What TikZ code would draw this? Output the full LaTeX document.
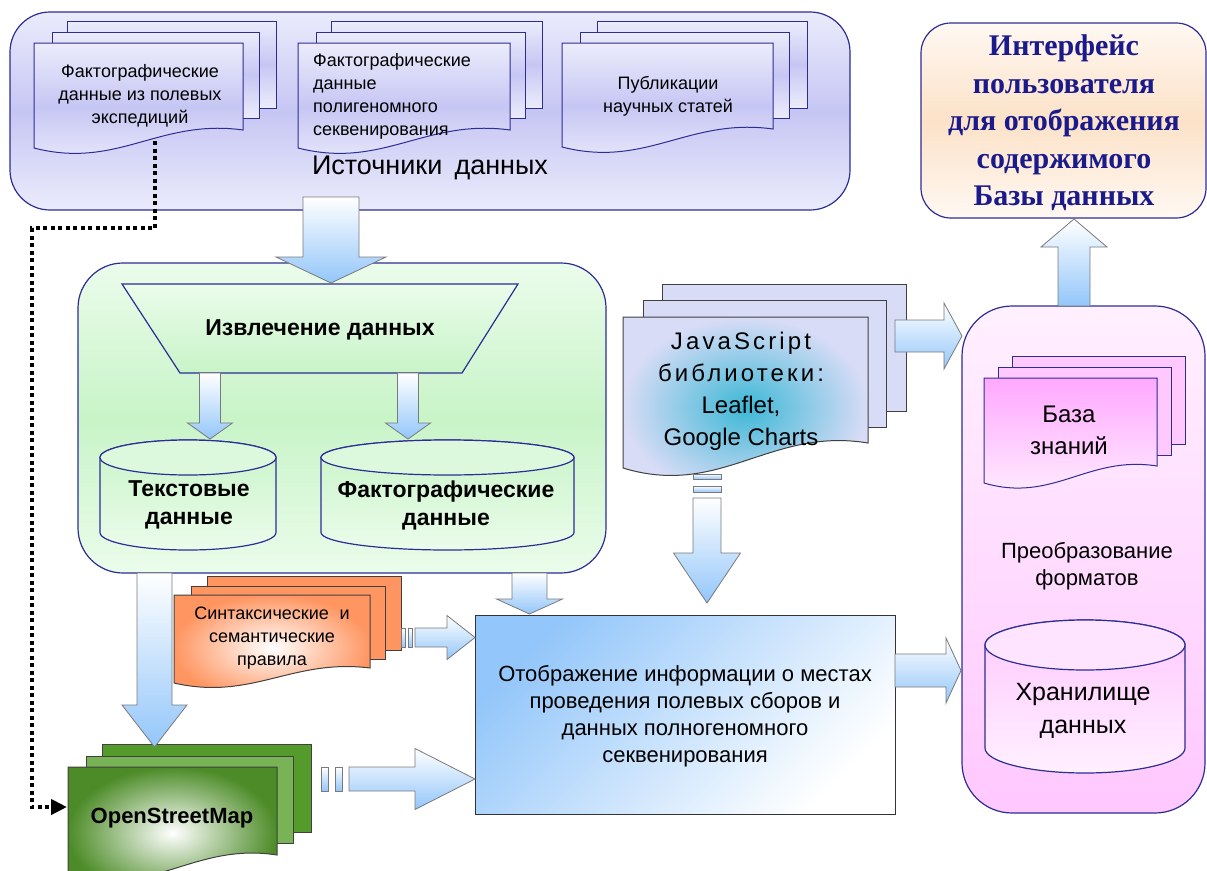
\documentclass[tikz,border=0pt]{standalone}
\usepackage{fontspec}
\setmainfont{Liberation Sans}
\newfontfamily\serifb{Liberation Serif}
\usetikzlibrary{arrows.meta,calc}
\definecolor{bord}{HTML}{2D2D96}
\definecolor{lav}{HTML}{EBEBFC}
\definecolor{lavd}{HTML}{C6C6F4}
\definecolor{docl}{HTML}{ECECFC}
\definecolor{arrb}{HTML}{93C6FA}
\definecolor{agrey}{HTML}{7A7A7A}
\definecolor{grn}{HTML}{C8F4C8}
\definecolor{grnl}{HTML}{EBFCEB}
\definecolor{peach}{HTML}{FCE2C8}
\definecolor{peachl}{HTML}{FFF8F2}
\definecolor{navy}{HTML}{1A1A8A}
\definecolor{orng}{HTML}{FF9662}
\definecolor{osmg}{HTML}{559B2C}
\definecolor{osmm}{HTML}{78B456}
\definecolor{jsbg}{HTML}{D9DCF6}
\definecolor{jscy}{HTML}{3CB8D6}
\definecolor{pinkl}{HTML}{FFF0FF}
\definecolor{pinkd}{HTML}{FFC8FF}
\definecolor{pinkf}{HTML}{FFA8FF}
\newcommand\docshape[6]{\path[#1] (#2,#3) -- (#4,#3) -- (#4,{#5-#6}) .. controls ({#2+0.6*(#4-#2)},{#5-1.65*#6}) and ({#2+0.4*(#4-#2)},{#5+1.2*#6}) .. (#2,#5) -- cycle;}
\newcommand\cyl[7]{%
\path[#7] (#1,{#2+#6}) -- (#1,{#4-#6}) arc[start angle=180,end angle=360,x radius=#5pt,y radius=#6pt] -- (#3,{#2+#6}) arc[start angle=0,end angle=180,x radius=#5pt,y radius=#6pt] -- cycle;}
\newcommand\arrdown[5]{\path[barrow] let \p1=(#1), \p2=(#2) in (\x2-#3pt,\y1) -- (\x2-#3pt,\y2+#5pt) -- (\x2-#4pt,\y2+#5pt) -- (\p2) -- (\x2+#4pt,\y2+#5pt) -- (\x2+#3pt,\y2+#5pt) -- (\x2+#3pt,\y1) -- cycle;}
\newcommand\arrup[5]{\path[barrow] let \p1=(#1), \p2=(#2) in (\x2-#3pt,\y1) -- (\x2-#3pt,\y2-#5pt) -- (\x2-#4pt,\y2-#5pt) -- (\p2) -- (\x2+#4pt,\y2-#5pt) -- (\x2+#3pt,\y2-#5pt) -- (\x2+#3pt,\y1) -- cycle;}
\newcommand\arrright[5]{\path[barrow] let \p1=(#1), \p2=(#2) in (\x1,\y2+#3pt) -- (\x2-#5pt,\y2+#3pt) -- (\x2-#5pt,\y2+#4pt) -- (\p2) -- (\x2-#5pt,\y2-#4pt) -- (\x2-#5pt,\y2-#3pt) -- (\x1,\y2-#3pt) -- cycle;}
\begin{document}
\begin{tikzpicture}[x=1pt,y=-1pt,
  every node/.style={inner sep=0pt, align=center},
  bx/.style={draw=bord, line width=1.2pt},
  doc/.style={draw=bord, line width=1pt},
  docfill/.style={top color=docl, bottom color=docl, middle color=lavd},
  jsdoc/.style={draw=black!75, line width=1pt},
  barrow/.style={draw=agrey, line width=0.8pt, top color=white, bottom color=arrb}]
\useasboundingbox (0,0) rectangle (1207,870);

% ---------- data sources ----------
\node[bx, rounded corners=40pt, minimum width=840pt, minimum height=198pt,
  top color=lav, bottom color=lav, middle color=lavd] (src) at (430,111) {};
\path[doc, docfill] (67,21) rectangle (276,108);
\path[doc, docfill] (52,32) rectangle (259,118);
\docshape{doc, docfill}{34}{43}{243}{148}{18}
\node[font=\fontsize{18}{23}\selectfont] (s1) at (140,96) {Фактографические\\данные из полевых\\экспедиций};
\path[doc, docfill] (331,21) rectangle (542,108);
\path[doc, docfill] (316,32) rectangle (525,118);
\docshape{doc, docfill}{298}{43}{510}{148}{18}
\node[font=\fontsize{18}{23}\selectfont, align=left, anchor=west] (s2) at (313,96) {Фактографические\\данные\\полигеномного\\секвенирования};
\path[doc, docfill] (597,21) rectangle (807,108);
\path[doc, docfill] (580,32) rectangle (789,118);
\docshape{doc, docfill}{562}{43}{773}{147}{18}
\node[font=\fontsize{18}{23}\selectfont] (s3) at (668,96) {Публикации\\научных статей};
\node[font=\fontsize{27}{32}\selectfont] (srct) at (430,168) {Источники\hspace{0.45em}данных};

% ---------- user interface ----------
\node[bx, rounded corners=30pt, minimum width=285pt, minimum height=195pt,
  top color=peachl, bottom color=peachl, middle color=peach] (ui) at (1063.5,120.5) {};
\node[font=\serifb\bfseries\fontsize{30}{37.5}\selectfont, text=navy] (uit) at (1064,123)
  {Интерфейс\\пользователя\\для отображения\\содержимого\\Базы данных};

% ---------- extraction ----------
\node[bx, rounded corners=45pt, minimum width=528pt, minimum height=310pt,
  top color=grnl, bottom color=grnl, middle color=grn] (grn) at (342,418) {};
\path[bx, top color=grnl, bottom color=grn] (122,284) -- (518,284) -- (462,373) -- (180,373) -- cycle;
\node[font=\bfseries\fontsize{23}{27}\selectfont] (ext) at (320,330) {Извлечение данных};
\cyl{100}{440}{276}{550}{88}{17.5}{bx, top color=grn, bottom color=grnl}
\path[bx, fill=grnl!60!grn] (188,457.5) ellipse[x radius=88pt, y radius=17.5pt];
\node[font=\bfseries\fontsize{23}{28}\selectfont] (c1) at (189,505) {Текстовые\\данные};
\cyl{321}{440}{574}{550}{126.5}{17.5}{bx, top color=grn, bottom color=grnl}
\path[bx, fill=grnl!60!grn] (447.5,457.5) ellipse[x radius=126.5pt, y radius=17.5pt];
\node[font=\bfseries\fontsize{23}{28}\selectfont] (c2) at (446,505) {Фактографические\\данные};

% ---------- JavaScript libraries ----------
\path[jsdoc, fill=jsbg] (662,284) rectangle (906,411);
\path[jsdoc, fill=jsbg] (643,300) rectangle (886,427);
\docshape{jsdoc, inner color=jscy, outer color=jsbg}{623}{317}{868}{468}{25}
\node[font=\fontsize{24}{32}\selectfont] (js) at (741,391)
  {{\addfontfeature{LetterSpace=13}JavaScript}\\{\addfontfeature{LetterSpace=13}библиотеки:}\\Leaflet,\\Google Charts};

% ---------- rules ----------
\path[jsdoc, fill=orng] (207,576) rectangle (401,650);
\path[jsdoc, fill=orng] (191,586) rectangle (385,659);
\docshape{jsdoc, inner color=white, outer color=orng}{174}{595}{370}{683}{15}
\node[font=\fontsize{18}{23}\selectfont] (rules) at (272,638) {Синтаксические\hspace{0.6em}и\\семантические\\правила};

% ---------- OpenStreetMap ----------
\path[jsdoc, fill=osmg] (102,744) rectangle (311,832);
\path[jsdoc, fill=osmm] (86,756) rectangle (293,843);
\docshape{jsdoc, inner color=white, outer color=osmg!90!black}{68}{767}{277}{875}{20}
\node[font=\bfseries\fontsize{22}{26}\selectfont] (osm) at (172,818) {OpenStreetMap};

% ---------- main display box ----------
\node[draw=black!80, line width=1pt, minimum width=420pt, minimum height=199pt,
  top color=arrb, bottom color=white, shading angle=45] (main) at (685,714.5) {};
\node[font=\fontsize{22}{27}\selectfont] (maint) at (685,716)
  {Отображение информации о местах\\проведения полевых сборов и\\данных полногеномного\\секвенирования};

% ---------- right column ----------
\node[bx, rounded corners=50pt, minimum width=243pt, minimum height=507pt,
  top color=pinkl, bottom color=pinkd] (pink) at (1083.5,559.5) {};
\path[doc, fill=pinkd] (1012,356) rectangle (1185,444);
\path[doc, fill=pinkd] (998,367) rectangle (1171,455);
\docshape{doc, top color=pinkf, bottom color=pinkl}{984}{378}{1157}{483}{17}
\node[font=\fontsize{24}{32}\selectfont] (kb) at (1069,430) {База\\знаний};
\node[font=\fontsize{22}{27}\selectfont] (conv) at (1087,566) {Преобразование\\форматов};
\cyl{985}{620}{1185}{773}{100}{25}{bx, top color=pinkd, bottom color=pinkl}
\path[bx, fill=pinkl!70!pinkd] (1085,645) ellipse[x radius=100pt, y radius=25pt];
\node[font=\fontsize{25}{33}\selectfont] (store) at (1083,711) {Хранилище\\данных};

% ---------- block arrows ----------
\coordinate (a1s) at (331,197);   \coordinate (a1t) at (331,283);
\coordinate (a2s) at (210,373);   \coordinate (a2t) at (210,439);
\coordinate (a3s) at (408,373);   \coordinate (a3t) at (408,439);
\coordinate (a4s) at (707,498);   \coordinate (a4t) at (707,603);
\coordinate (a5s) at (529.5,573); \coordinate (a5t) at (529.5,614);
\coordinate (a7s) at (154.5,573); \coordinate (a7t) at (154.5,747);
\coordinate (a6s) at (415,637.5); \coordinate (a6t) at (475,637.5);
\coordinate (a8s) at (349,779);   \coordinate (a8t) at (475,779);
\coordinate (a9s) at (895,336);   \coordinate (a9t) at (962,336);
\coordinate (a11s) at (895,670.5);\coordinate (a11t) at (961,670.5);
\coordinate (a10s) at (1074,306); \coordinate (a10t) at (1074,219);
\arrdown{a1s}{a1t}{28}{55}{26}
\arrdown{a2s}{a2t}{10.5}{22.5}{16}
\arrdown{a3s}{a3t}{10.5}{22.5}{16}
\path[barrow] (693,474) rectangle (721,479);
\path[barrow] (693,486) rectangle (721,492);
\arrdown{a4s}{a4t}{14}{33.5}{50}
\arrdown{a5s}{a5t}{17.5}{33}{15}
\arrdown{a7s}{a7t}{17.5}{32.5}{42}
\path[barrow] (401,628) rectangle (405,647);
\path[barrow] (408,628) rectangle (412,647);
\arrright{a6s}{a6t}{9.5}{22}{28}
\path[barrow] (321,767) rectangle (328,791);
\path[barrow] (335,767) rectangle (342,791);
\arrright{a8s}{a8t}{12}{30.5}{60}
\arrright{a9s}{a9t}{16}{33}{18}
\arrright{a11s}{a11t}{16.5}{32.5}{15}
\arrup{a10s}{a10t}{16}{33}{28}

% ---------- dotted connector ----------
\coordinate (dS) at (155,141);
\coordinate (dE) at (67,807);
\draw[line width=4pt, dash pattern=on 4pt off 3.5pt, -{Triangle[length=16pt,width=15pt]}]
  (dS) -- (155,228) -- (32,228) -- (32,807) -- (dE);
\end{tikzpicture}
\end{document}
